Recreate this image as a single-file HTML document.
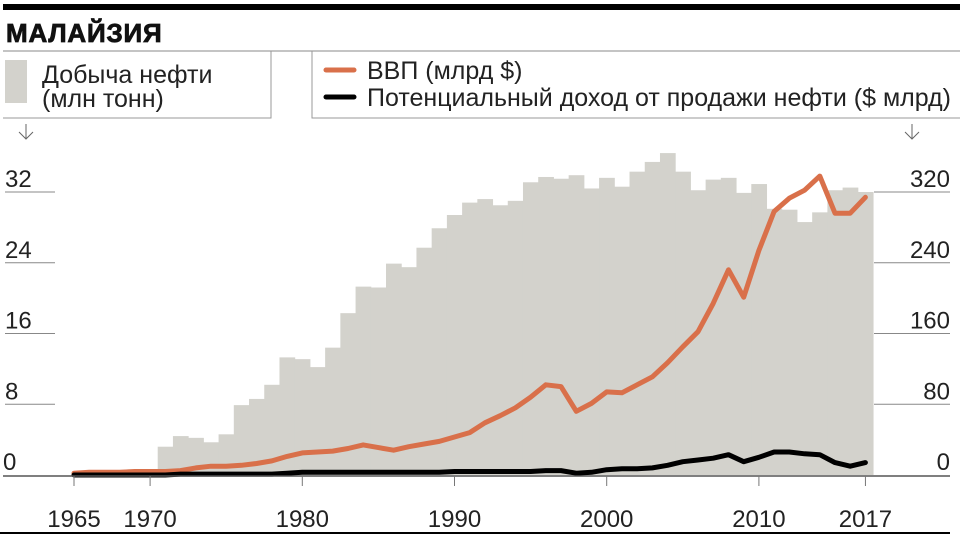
<!DOCTYPE html>
<html><head><meta charset="utf-8">
<style>
body{margin:0;background:#fff;width:960px;height:540px;overflow:hidden;font-family:"Liberation Sans",Arial,sans-serif;}
svg text{font-family:"Liberation Sans",Arial,sans-serif;}
</style></head>
<body>
<svg id="chart" width="960" height="540" viewBox="0 0 960 540">
  <rect x="3" y="4" width="957" height="6" fill="#000"/>
  <text x="6" y="42" font-size="26" font-weight="bold" fill="#111" stroke="#111" stroke-width="0.8" style="letter-spacing:0.8px">МАЛАЙЗИЯ</text>
  <line x1="3" y1="51" x2="960" y2="51" stroke="#888" stroke-width="1"/>
  <g>
    <path d="M3 118 H271 V51" fill="none" stroke="#999" stroke-width="1"/>
    <rect x="5" y="60" width="22" height="43" fill="#d3d2cc"/>
    <text x="42" y="83" font-size="25" fill="#222">Добыча нефти</text>
    <text x="42" y="107" font-size="25" fill="#222">(млн тонн)</text>
  </g>
  <g>
    <path d="M312 51 V118 H960" fill="none" stroke="#999" stroke-width="1"/>
    <line x1="326" y1="70" x2="354" y2="70" stroke="#d9704a" stroke-width="5" stroke-linecap="round"/>
    <text x="367" y="79" font-size="25" fill="#222">ВВП (млрд $)</text>
    <line x1="326" y1="97" x2="354" y2="97" stroke="#000" stroke-width="5" stroke-linecap="round"/>
    <text x="367" y="106" font-size="25" fill="#222">Потенциальный доход от продажи нефти ($ млрд)</text>
  </g>
  <g stroke="#666" stroke-width="1" fill="none">
    <path d="M26 124 V139 M19 132 L26 139 L33 132"/>
    <path d="M912 124 V139 M905 132 L912 139 L919 132"/>
  </g>
  <g id="grid"></g>
  <g id="bars"></g>
  <g id="lines"></g>
  <g id="axes"></g>
  <rect x="0" y="532" width="950" height="2" fill="#000"/>
</svg>
<script>
const years = [];
for (let y = 1965; y <= 2017; y++) years.push(y);
const oilProduction = [0,0,0,0,0,0,3.2,4.4,4.2,3.7,4.6,7.9,8.6,10.2,13.3,13.1,12.2,14.4,18.3,21.3,21.2,23.9,23.5,25.7,27.9,29.4,30.8,31.2,30.5,31.0,33.1,33.7,33.5,33.9,32.4,33.6,32.6,34.3,35.4,36.4,34.3,32.2,33.4,33.6,31.9,32.9,30.1,30.0,28.6,29.7,32.2,32.5,32.0];
const gdp = [2,3,3,3,4,4,4,5,8,10,10,11,13,16,21,25,26,27,30,34,31,28,32,35,38,43,48,59,67,76,88,102,100,72,81,94,93,102,111,127,145,162,194,232,201,254,298,313,322,338,296,296,314];
const oilRevenue = [0,0,0,0,0,0,0,1,1,1,1,1,1,1,2,3,3,3,3,3,3,3,3,3,3,4,4,4,4,4,4,5,5,2,3,6,7,7,8,11,15,17,19,23,15,20,26,26,24,23,14,10,14];
const leftTicks = [0,8,16,24,32];
const rightTicks = [0,80,160,240,320];
const xTickYears = [1965,1970,1980,1990,2000,2010,2017];

const NS = "http://www.w3.org/2000/svg";
const baseY = 475;
const xScale = yr => 74 + (yr - 1965) * 15.22;
const yLeft = v => baseY - v * (283 / 32);
const yRight = v => baseY - v * (283 / 320);
function mk(tag, attrs, parent) {
  const e = document.createElementNS(NS, tag);
  for (const k in attrs) e.setAttribute(k, attrs[k]);
  parent.appendChild(e);
  return e;
}
const grid = document.getElementById('grid');
const bars = document.getElementById('bars');
const lines = document.getElementById('lines');
const axes = document.getElementById('axes');

leftTicks.forEach(t => {
  const y = yLeft(t);
  if (t > 0) {
    const l = mk('line', {x1: 5, x2: 55, y1: y, y2: y, stroke: '#888', 'stroke-width': 1}, grid);
    
    
  }
  const tx = mk('text', {x: t === 0 ? 3 : 5, y: y - 5, 'font-size': 24, fill: '#222'}, grid);
  tx.textContent = t;
  
  
});
rightTicks.forEach(t => {
  const y = yRight(t);
  if (t > 0) {
    const l = mk('line', {x1: 874, x2: 950, y1: y, y2: y, stroke: '#888', 'stroke-width': 1}, grid);
    
    
  }
  const tx = mk('text', {x: 950, y: y - 5, 'font-size': 24, fill: '#222', 'text-anchor': 'end'}, grid);
  tx.textContent = t;
  
  
});

years.forEach((yr, i) => {
  const v = oilProduction[i];
  if (!v) return;
  const x = xScale(yr) - 7.61;
  const r = mk('rect', {x: x, y: yLeft(v), width: 15.72, height: baseY - yLeft(v), fill: '#d3d2cc'}, bars);
  
  
});

function linePath(vals) {
  return vals.map((v, i) => (i ? 'L' : 'M') + xScale(years[i]).toFixed(1) + ' ' + yRight(v).toFixed(1)).join(' ');
}
const g = mk('path', {d: linePath(gdp), fill: 'none', stroke: '#d9704a', 'stroke-width': 5, 'stroke-linejoin': 'round', 'stroke-linecap': 'round'}, lines);


const rv = mk('path', {d: linePath(oilRevenue), fill: 'none', stroke: '#000', 'stroke-width': 5, 'stroke-linejoin': 'round', 'stroke-linecap': 'round'}, lines);



const ax = mk('line', {x1: 3, x2: 950, y1: baseY + 1, y2: baseY + 1, stroke: '#555', 'stroke-width': 1.5}, axes);


xTickYears.forEach(yr => {
  const x = xScale(yr);
  const t = mk('line', {x1: x, x2: x, y1: baseY + 1, y2: baseY + 11, stroke: '#777', 'stroke-width': 1}, axes);
  
  
  const tx = mk('text', {x: x, y: 527, 'font-size': 24, fill: '#222', 'text-anchor': 'middle'}, axes);
  tx.textContent = yr;
  
  
});
</script>
</body></html>
